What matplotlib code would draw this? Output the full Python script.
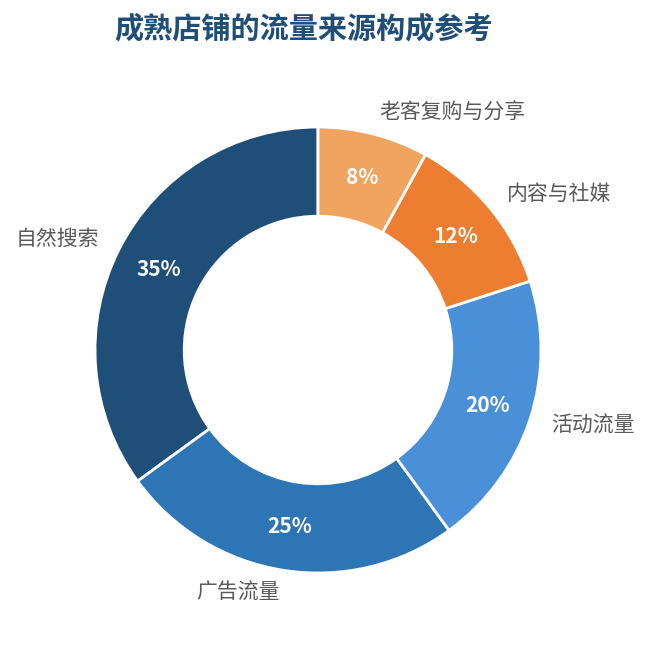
import matplotlib
matplotlib.use("Agg")
import matplotlib.pyplot as plt

plt.rcParams["font.family"] = ["Noto Sans CJK SC", "DejaVu Sans"]

# 流量来源 (百分比)
sources = ["自然搜索", "广告流量", "活动流量", "内容与社媒", "老客复购与分享"]
shares = [35, 25, 20, 12, 8]
colors = ["#1f4e79", "#2e75b6", "#4a90d9", "#ed7d31", "#f0a45f"]

fig = plt.figure(figsize=(6.51, 6.45), dpi=100)
ax = fig.add_axes([0.0603, 0.0252, 0.8564, 0.8643])

wedges, texts, autotexts = ax.pie(
    shares,
    labels=sources,
    colors=colors,
    startangle=90,
    autopct="%d%%",
    pctdistance=0.8,
    labeldistance=1.1,
    wedgeprops=dict(width=0.4, edgecolor="white", linewidth=2),
    textprops=dict(fontsize=15, color="#595959"),
)
for t in autotexts:
    t.set_color("white")
    t.set_fontsize(15)
    t.set_fontweight("bold")

ax.set_xlim(-1.25, 1.25)
ax.set_ylim(-1.25, 1.25)
ax.set_aspect("equal")

fig.text(0.467, 0.9566, "成熟店铺的流量来源构成参考", ha="center", va="center",
         fontsize=21, fontweight="bold", color="#1f4e79")

fig.savefig("out.png", dpi=100)
